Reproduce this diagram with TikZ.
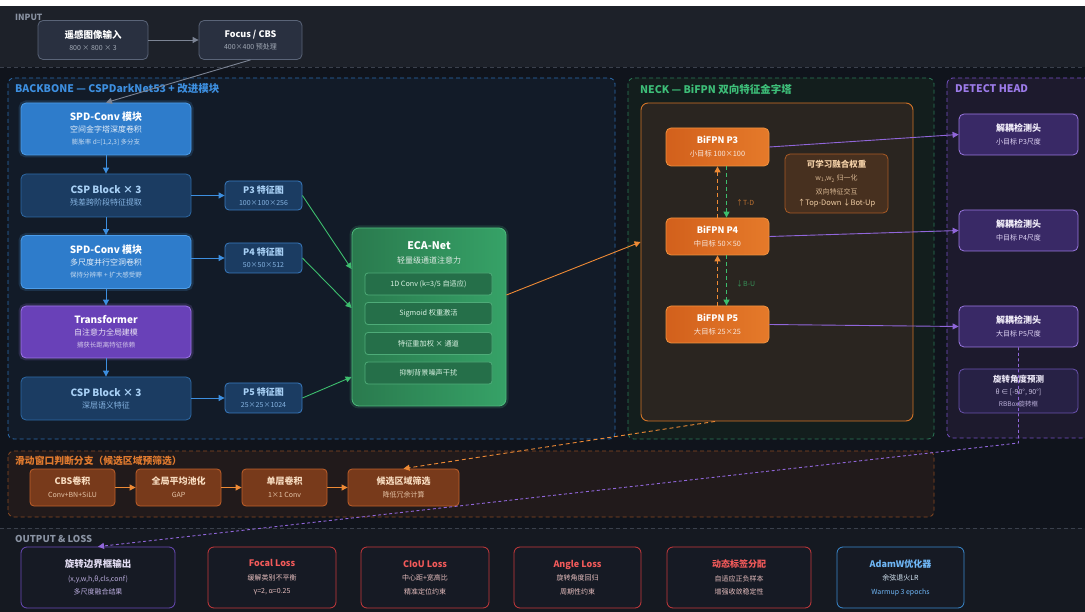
\documentclass[tikz,border=0pt]{standalone}
\usepackage{fontspec}
\setmainfont{Noto Sans CJK SC}
\usetikzlibrary{arrows.meta,calc}
\definecolor{bgmain}{HTML}{10141C}
\definecolor{inband}{HTML}{1D2129}
\definecolor{outband}{HTML}{151921}
\definecolor{graytxt}{HTML}{8A93A3}
\definecolor{grayln}{HTML}{3A404C}
\definecolor{bbfill}{HTML}{121B28}
\definecolor{bbline}{HTML}{2C6CAE}
\definecolor{bbtxt}{HTML}{3D8FE0}
\definecolor{nkfill}{HTML}{131E1D}
\definecolor{nkline}{HTML}{2B7A58}
\definecolor{nktxt}{HTML}{3DBE78}
\definecolor{dhfill}{HTML}{1D1A2D}
\definecolor{dhline}{HTML}{7650C4}
\definecolor{dhtxt}{HTML}{9D7BEA}
\definecolor{swfill}{HTML}{211A1B}
\definecolor{swline}{HTML}{8A4A22}
\definecolor{swtxt}{HTML}{E07A2E}
\definecolor{spdfill}{HTML}{2E7CCB}
\definecolor{spdline}{HTML}{4C9DEA}
\definecolor{cspfill}{HTML}{1B3C62}
\definecolor{cspline}{HTML}{2E69A4}
\definecolor{csptxt}{HTML}{A8D0F5}
\definecolor{csptxtb}{HTML}{86B4E2}
\definecolor{trfill}{HTML}{6941B8}
\definecolor{trline}{HTML}{9D74E8}
\definecolor{pline}{HTML}{3A7BC0}
\definecolor{ecaL}{HTML}{2A7A4E}
\definecolor{ecaR}{HTML}{36A267}
\definecolor{ecaline}{HTML}{4DBB7C}
\definecolor{ecain}{HTML}{256F49}
\definecolor{ecainline}{HTML}{5FC58C}
\definecolor{ecatxt}{HTML}{D8F2E2}
\definecolor{bifL}{HTML}{D2601C}
\definecolor{bifR}{HTML}{E57A2A}
\definecolor{bifline}{HTML}{F0923F}
\definecolor{frfill}{HTML}{2A2520}
\definecolor{frline}{HTML}{D27428}
\definecolor{wfill}{HTML}{47301F}
\definecolor{wline}{HTML}{A85A25}
\definecolor{wtxt}{HTML}{F2CFA6}
\definecolor{hdfill}{HTML}{392966}
\definecolor{hdline}{HTML}{9A78E0}
\definecolor{hd4fill}{HTML}{272145}
\definecolor{hd4line}{HTML}{6A52AE}
\definecolor{swbfill}{HTML}{783A1B}
\definecolor{swbline}{HTML}{C0602A}
\definecolor{swbtxt}{HTML}{F8DCC0}
\definecolor{outfill}{HTML}{161A24}
\definecolor{outpur}{HTML}{6A4AB8}
\definecolor{outred}{HTML}{C8393C}
\definecolor{redtxt}{HTML}{F25A5A}
\definecolor{redsub}{HTML}{E6BEBE}
\definecolor{outblue}{HTML}{3A8AD0}
\definecolor{bluetxt}{HTML}{6FB6F5}
\definecolor{inboxfill}{HTML}{293040}
\definecolor{inboxline}{HTML}{5A6478}
\definecolor{arrblue}{HTML}{3D8FE0}
\definecolor{arrgreen}{HTML}{3DBE6E}
\definecolor{arrorange}{HTML}{EE8A35}
\definecolor{arrpurple}{HTML}{9066DA}
\definecolor{arrgray}{HTML}{7C8494}
\newcommand{\tx}[3]{{\color{#1}\fontsize{#2}{#2}\selectfont #3}}
\newcommand{\tbf}[3]{{\color{#1}\fontsize{#2}{#2}\selectfont\bfseries #3}}
\begin{document}
\begin{tikzpicture}[x=1pt,y=-1pt,
  box/.style={rounded corners=5pt, line width=0.8pt, inner sep=0pt, align=center, font=\fontsize{7.5}{12}\selectfont},
  glow/.style={preaction={draw=#1, line width=5pt, opacity=0.18}},
  arr/.style={-{Triangle[width=6pt,length=6pt]}, line width=0.9pt},
  sec/.style={rounded corners=6pt, dash pattern=on 4pt off 3pt, line width=0.8pt},
  lbl/.style={anchor=west, inner sep=0pt, font=\fontsize{9}{10}\selectfont\bfseries},
  biglbl/.style={lbl, font=\fontsize{10.5}{12}\selectfont\bfseries}
]
\useasboundingbox (0,0) rectangle (1085,612);
% backgrounds
\fill[white] (0,0) rectangle (1085,612);
\fill[bgmain] (0,6) rectangle (1085,612);
\fill[inband] (0,6) rectangle (1085,67);
\draw[grayln, dash pattern=on 4pt off 3pt, line width=0.7pt] (0,67) -- (1085,67);
\fill[outband] (0,528) rectangle (1085,612);
\draw[grayln, dash pattern=on 4pt off 3pt, line width=0.7pt] (0,528) -- (1085,528);
\draw[sec, draw=bbline, fill=bbfill] (8,78) rectangle (615,439);
\draw[sec, draw=nkline, fill=nkfill] (628,78) rectangle (934,439);
\draw[sec, draw=dhline, fill=dhfill] (947,78) rectangle (1095,438);
\draw[sec, draw=swline, fill=swfill] (8,451) rectangle (934,517);

% section labels
\node[lbl, text=graytxt, font=\fontsize{8.5}{10}\selectfont\bfseries] (lin) at (15,17) {INPUT};
\node[biglbl, text=bbtxt] (lbb) at (15,89) {BACKBONE — CSPDarkNet53 + 改进模块};
\node[biglbl, text=nktxt] (lnk) at (640,89) {NECK — BiFPN 双向特征金字塔};
\node[biglbl, text=dhtxt] (ldh) at (955,89) {DETECT HEAD};
\node[lbl, text=swtxt, font=\fontsize{9.8}{11}\selectfont\bfseries] (lsw) at (15,461) {滑动窗口判断分支（候选区域预筛选）};
\node[lbl, text=graytxt, font=\fontsize{9.5}{11}\selectfont\bfseries] (lout) at (15,539) {OUTPUT \& LOSS};

% input
\node[box, fill=inboxfill, draw=inboxline, minimum width=110pt, minimum height=39pt] (img) at (93,40)
  {\tbf{white}{9.5}{遥感图像输入}\\\tx{graytxt!80!white}{7}{800 × 800 × 3}};
\node[box, fill=inboxfill, draw=inboxline, minimum width=103pt, minimum height=39pt] (focus) at (250.5,40)
  {\tbf{white}{9}{Focus / CBS}\\\tx{graytxt!80!white}{7}{400×400 预处理}};

% backbone column
\node[box, fill=spdfill, draw=spdline, glow=spdline, minimum width=170pt, minimum height=52pt] (spd1) at (106,129)
  {\tbf{white}{10}{SPD-Conv 模块}\\\tx{white!88!spdfill}{8}{空间金字塔深度卷积}\\\tx{white!72!spdfill}{6.5}{膨胀率 d=[1,2,3] 多分支}};
\node[box, fill=cspfill, draw=cspline, minimum width=170pt, minimum height=43pt] (csp1) at (106,195.5)
  {\tbf{csptxt}{10}{CSP Block × 3}\\\tx{csptxtb}{8}{残差跨阶段特征提取}};
\node[box, fill=spdfill, draw=spdline, glow=spdline, minimum width=170pt, minimum height=53pt] (spd2) at (106,262)
  {\tbf{white}{10}{SPD-Conv 模块}\\\tx{white!88!spdfill}{8}{多尺度并行空洞卷积}\\\tx{white!72!spdfill}{6.5}{保持分辨率 + 扩大感受野}};
\node[box, fill=trfill, draw=trline, glow=trline, minimum width=170pt, minimum height=52pt] (tr) at (106,332)
  {\tbf{white}{10}{Transformer}\\\tx{white!85!trfill}{8}{自注意力全局建模}\\\tx{white!70!trfill}{6.5}{捕获长距离特征依赖}};
\node[box, fill=cspfill, draw=cspline, minimum width=170pt, minimum height=43pt] (csp2) at (106,398.5)
  {\tbf{csptxt}{10}{CSP Block × 3}\\\tx{csptxtb}{8}{深层语义特征}};
\draw[arr, arrblue] (spd1) -- (csp1);
\draw[arr, arrblue] (csp1) -- (spd2);
\draw[arr, arrblue] (spd2) -- (tr);
\draw[arr, arrblue] (tr) -- (csp2);

% feature maps
\node[box, rounded corners=4pt, fill=cspfill, draw=pline, minimum width=77pt, minimum height=29pt, font=\fontsize{7}{12}\selectfont] (p3) at (263.5,195.5)
  {\tbf{csptxt}{9}{P3 特征图}\\\tx{csptxtb}{7}{100×100×256}};
\node[box, rounded corners=4pt, fill=cspfill, draw=pline, minimum width=77pt, minimum height=30pt, font=\fontsize{7}{12}\selectfont] (p4) at (263.5,258)
  {\tbf{csptxt}{9}{P4 特征图}\\\tx{csptxtb}{7}{50×50×512}};
\node[box, rounded corners=4pt, fill=cspfill, draw=pline, minimum width=77pt, minimum height=30pt, font=\fontsize{7}{12}\selectfont] (p5) at (263.5,398)
  {\tbf{csptxt}{9}{P5 特征图}\\\tx{csptxtb}{7}{25×25×1024}};
\draw[arr, arrblue] (csp1.east |- p3.west) -- (p3.west);
\draw[arr, arrblue] (spd2.east |- p4.west) -- (p4.west);
\draw[arr, arrblue] (csp2.east |- p5.west) -- (p5.west);

% ECA-Net
\node[rounded corners=7pt, line width=0.8pt, draw=ecaline, left color=ecaL, right color=ecaR, glow=ecaline, minimum width=154pt, minimum height=178pt, inner sep=0pt] (eca) at (429,317) {};
\node[align=center, inner sep=0pt, font=\fontsize{8}{14}\selectfont] (ecat) at (429,253)
  {\tbf{white}{10.5}{ECA-Net}\\\tx{white!85!ecaL}{8}{轻量级通道注意力}};
\node[box, rounded corners=3pt, fill=ecain, draw=ecainline!70!ecain, minimum width=127pt, minimum height=22pt] (e1) at (428.5,284) {\tx{ecatxt}{7.2}{1D Conv (k=3/5 自适应)}};
\node[box, rounded corners=3pt, fill=ecain, draw=ecainline!70!ecain, minimum width=127pt, minimum height=22pt] (e2) at (428.5,313.5) {\tx{ecatxt}{7.2}{Sigmoid 权重激活}};
\node[box, rounded corners=3pt, fill=ecain, draw=ecainline!70!ecain, minimum width=127pt, minimum height=22pt] (e3) at (428.5,343.5) {\tx{ecatxt}{7.2}{特征重加权 × 通道}};
\node[box, rounded corners=3pt, fill=ecain, draw=ecainline!70!ecain, minimum width=127pt, minimum height=22pt] (e4) at (428.5,373) {\tx{ecatxt}{7.2}{抑制背景噪声干扰}};
\draw[arr, arrgreen] (p3.east) -- ($(eca.west)+(0,-48)$);
\draw[arr, arrgreen] (p4.east) -- ($(eca.west)+(0,-9)$);
\draw[arr, arrgreen] (p5.east) -- ($(eca.west)+(0,60)$);

% neck
\node[rounded corners=7pt, line width=0.9pt, draw=frline, fill=frfill, minimum width=272pt, minimum height=318pt, inner sep=0pt] (frame) at (777,262) {};
\draw[arr, arrorange] ($(eca.east)+(0,-22)$) -- ($(frame.west)+(0,-20)$);
\node[box, rounded corners=5pt, left color=bifL, right color=bifR, draw=bifline, minimum width=103pt, minimum height=38pt, font=\fontsize{7.5}{13}\selectfont] (b3) at (717.5,147)
  {\tbf{white}{9}{BiFPN P3}\\\tx{white!85!bifL}{7.3}{小目标 100×100}};
\node[box, rounded corners=5pt, left color=bifL, right color=bifR, draw=bifline, minimum width=103pt, minimum height=37pt, font=\fontsize{7.5}{13}\selectfont] (b4) at (717.5,236.5)
  {\tbf{white}{9}{BiFPN P4}\\\tx{white!85!bifL}{7.3}{中目标 50×50}};
\node[box, rounded corners=5pt, left color=bifL, right color=bifR, draw=bifline, minimum width=103pt, minimum height=37pt, font=\fontsize{7.5}{13}\selectfont] (b5) at (717.5,324.5)
  {\tbf{white}{9}{BiFPN P5}\\\tx{white!85!bifL}{7.3}{大目标 25×25}};
\draw[arr, arrorange, dash pattern=on 4pt off 3pt, line width=1.1pt] (b4.north) -- (b3.south);
\draw[arr, arrgreen, dash pattern=on 4pt off 3pt, line width=1.1pt] ($(b3.south)+(9,0)$) -- ($(b4.north)+(9,0)$);
\draw[arr, arrorange, dash pattern=on 4pt off 3pt, line width=1.1pt] (b5.north) -- (b4.south);
\draw[arr, arrgreen, dash pattern=on 4pt off 3pt, line width=1.1pt] ($(b4.south)+(9,0)$) -- ($(b5.north)+(9,0)$);
\node[inner sep=0pt, anchor=west, text=arrorange!75!frfill, font=\fontsize{7}{8}\selectfont] (td) at (736,203) {↑T-D};
\node[inner sep=0pt, anchor=west, text=arrgreen!70!frfill, font=\fontsize{7}{8}\selectfont] (bu) at (736,284) {↓B-U};
\node[box, rounded corners=5pt, fill=wfill, draw=wline, minimum width=103pt, minimum height=59pt, font=\fontsize{7}{13.5}\selectfont] (wts) at (836.5,183.5)
  {\tbf{wtxt}{8.5}{可学习融合权重}\\\tx{wtxt!85!wfill}{7}{w\textsubscript{1},w\textsubscript{2} 归一化}\\\tx{wtxt!85!wfill}{7}{双向特征交互}\\[-2.5pt]\tx{wtxt}{7.5}{↑Top-Down ↓Bot-Up}};

% detect head
\node[box, fill=hdfill, draw=hdline, minimum width=119pt, minimum height=41pt, font=\fontsize{7}{13}\selectfont] (h1) at (1018.5,134.5)
  {\tbf{white!90!hdline}{9}{解耦检测头}\\\tx{white!70!hdline}{7}{小目标 P3尺度}};
\node[box, fill=hdfill, draw=hdline, minimum width=119pt, minimum height=41pt, font=\fontsize{7}{13}\selectfont] (h2) at (1018.5,230.5)
  {\tbf{white!90!hdline}{9}{解耦检测头}\\\tx{white!70!hdline}{7}{中目标 P4尺度}};
\node[box, fill=hdfill, draw=hdline, minimum width=119pt, minimum height=41pt, font=\fontsize{7}{13}\selectfont] (h3) at (1018.5,326.5)
  {\tbf{white!90!hdline}{9}{解耦检测头}\\\tx{white!70!hdline}{7}{大目标 P5尺度}};
\node[box, fill=hd4fill, draw=hd4line, minimum width=119pt, minimum height=44pt, font=\fontsize{7}{13}\selectfont] (h4) at (1018.5,391)
  {\tbf{white!85!hd4line}{8.5}{旋转角度预测}\\[-1pt]\tx{white!65!hd4line}{7}{θ ∈ [-90°, 90°]}\\[-1pt]\tx{white!55!hd4line}{6.5}{RBBox旋转框}};
\draw[arr, arrpurple] (b3.east) -- (h1.west);
\draw[arr, arrpurple] (b4.east) -- (h2.west);
\draw[arr, arrpurple] (b5.east) -- (h3.west);

% sliding window branch
\node[box, rounded corners=4pt, fill=swbfill, draw=swbline, minimum width=85pt, minimum height=37pt, font=\fontsize{7}{13}\selectfont] (cbs) at (72.5,487.5)
  {\tbf{swbtxt}{9}{CBS卷积}\\\tx{swbtxt!85!swbfill}{7}{Conv+BN+SiLU}};
\node[box, rounded corners=4pt, fill=swbfill, draw=swbline, minimum width=85pt, minimum height=37pt, font=\fontsize{7}{13}\selectfont] (gap) at (178.5,487.5)
  {\tbf{swbtxt}{9}{全局平均池化}\\\tx{swbtxt!85!swbfill}{7}{GAP}};
\node[box, rounded corners=4pt, fill=swbfill, draw=swbline, minimum width=85pt, minimum height=37pt, font=\fontsize{7}{13}\selectfont] (sc) at (284.5,487.5)
  {\tbf{swbtxt}{9}{单层卷积}\\\tx{swbtxt!85!swbfill}{7}{1×1 Conv}};
\node[box, rounded corners=4pt, fill=swbfill, draw=swbline, minimum width=111pt, minimum height=37pt, font=\fontsize{7}{13}\selectfont] (cand) at (403.5,487.5)
  {\tbf{swbtxt}{9}{候选区域筛选}\\\tx{swbtxt!85!swbfill}{7}{降低冗余计算}};
\draw[arr, arrorange] (cbs) -- (gap);
\draw[arr, arrorange] (gap) -- (sc);
\draw[arr, arrorange] (sc) -- (cand);

% output & loss
\node[box, rounded corners=6pt, fill=outfill, draw=outpur, minimum width=154pt, minimum height=61pt, font=\fontsize{7}{13.5}\selectfont] (o1) at (98,577.5)
  {\tbf{white!80!outpur}{9.5}{旋转边界框输出}\\\tx{white!55!outpur}{7}{(x,y,w,h,θ,cls,conf)}\\\tx{white!55!outpur}{7}{多尺度融合结果}};
\node[box, rounded corners=6pt, fill=outfill, draw=outred, minimum width=128pt, minimum height=61pt, font=\fontsize{7}{13.5}\selectfont] (o2) at (272,577.5)
  {\tbf{redtxt}{9}{Focal Loss}\\\tx{redsub}{7}{缓解类别不平衡}\\\tx{redsub}{7}{γ=2, α=0.25}};
\node[box, rounded corners=6pt, fill=outfill, draw=outred, minimum width=128pt, minimum height=61pt, font=\fontsize{7}{13.5}\selectfont] (o3) at (425,577.5)
  {\tbf{redtxt}{9}{CIoU Loss}\\\tx{redsub}{7}{中心距+宽高比}\\\tx{redsub}{7}{精准定位约束}};
\node[box, rounded corners=6pt, fill=outfill, draw=outred, minimum width=127pt, minimum height=61pt, font=\fontsize{7}{13.5}\selectfont] (o4) at (577.5,577.5)
  {\tbf{redtxt}{9}{Angle Loss}\\\tx{redsub}{7}{旋转角度回归}\\\tx{redsub}{7}{周期性约束}};
\node[box, rounded corners=6pt, fill=outfill, draw=outred, minimum width=144pt, minimum height=61pt, font=\fontsize{7}{13.5}\selectfont] (o5) at (739,577.5)
  {\tbf{redtxt}{9}{动态标签分配}\\\tx{redsub}{7}{自适应正负样本}\\\tx{redsub}{7}{增强收敛稳定性}};
\node[box, rounded corners=6pt, fill=outfill, draw=outblue, minimum width=127pt, minimum height=61pt, font=\fontsize{7}{13.5}\selectfont] (o6) at (900.5,577.5)
  {\tbf{bluetxt}{9}{AdamW优化器}\\\tx{white!80!outblue}{7}{余弦退火LR}\\\tx{bluetxt}{7}{Warmup 3 epochs}};

% cross connectors
\draw[arrgray, line width=0.9pt, -{Triangle[width=6pt,length=6pt]}] (img) -- (focus);
\draw[arrgray, line width=0.9pt, -{Triangle[width=6pt,length=6pt]}] (focus.south) -- (spd1.north);
\coordinate (fbot) at ($(frame.south)+(-62,0)$);
\draw[arr, arrorange, dash pattern=on 4pt off 3pt] (fbot) -- (cand.north);
\coordinate (pbend) at (1018.5,443);
\draw[arr, arrpurple, dash pattern=on 3pt off 2.5pt] (h3.south) -- (pbend) -- (o1.north);
\end{tikzpicture}
\end{document}
